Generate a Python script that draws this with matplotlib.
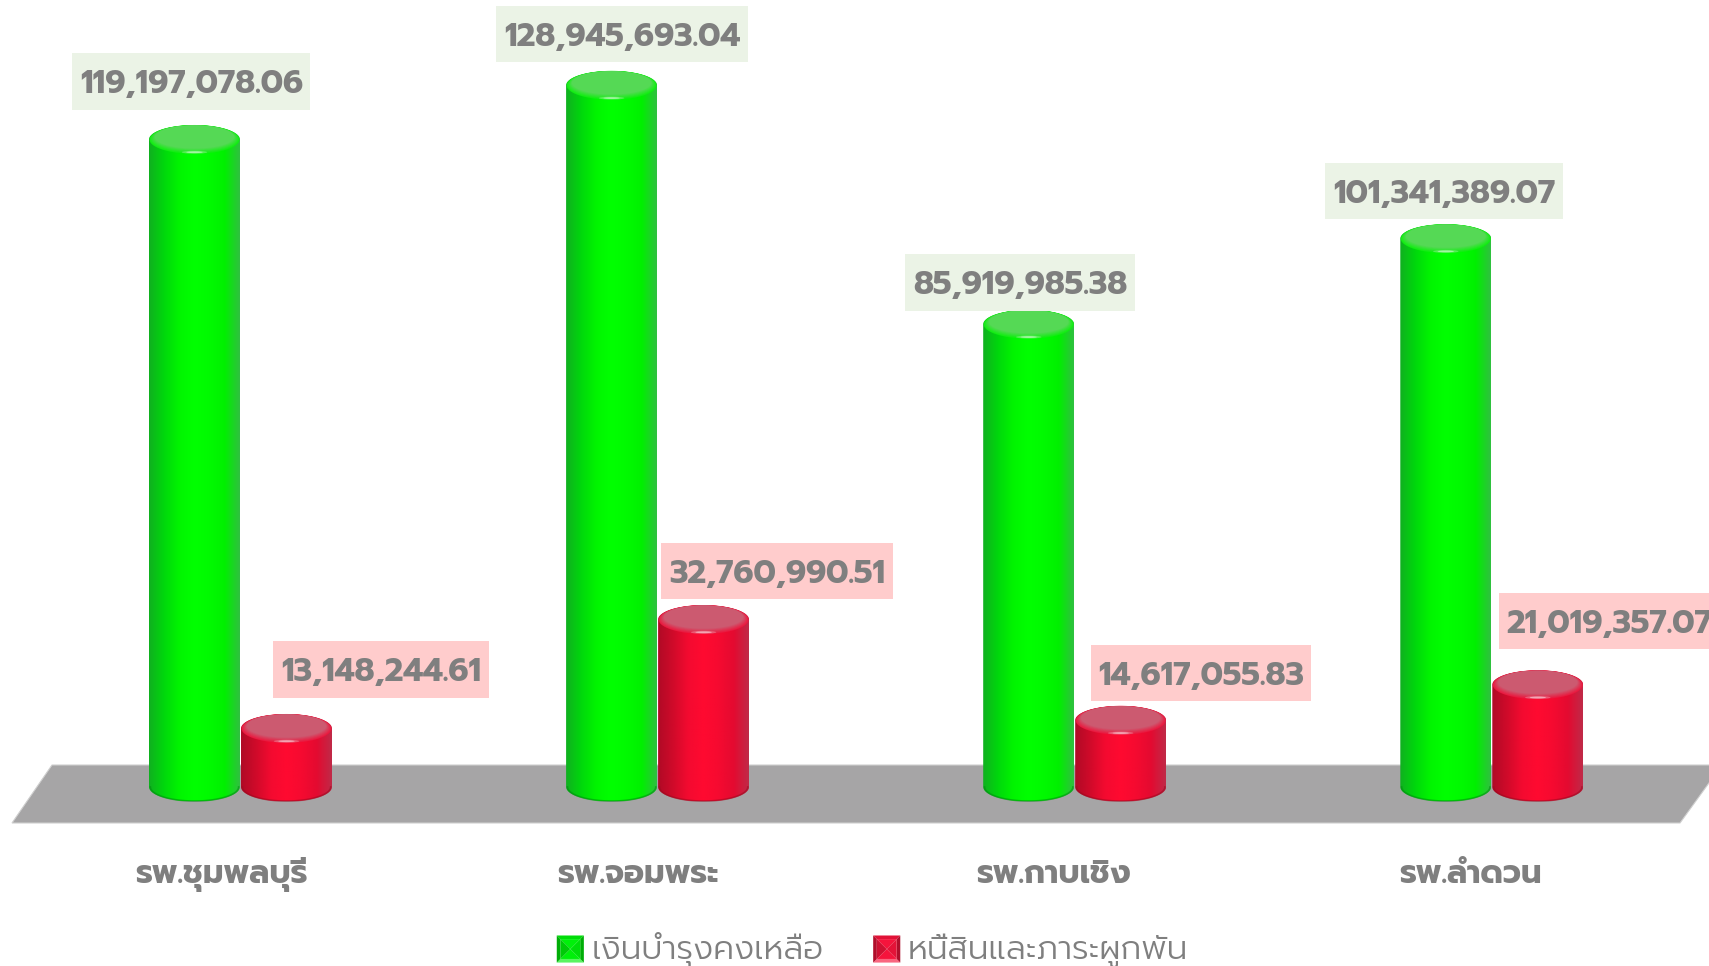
import numpy as np
import matplotlib
matplotlib.use('Agg')
import matplotlib.pyplot as plt
from matplotlib.legend_handler import HandlerBase
from matplotlib.patches import Patch, PathPatch, Polygon
from matplotlib.path import Path
from matplotlib.colors import LinearSegmentedColormap, to_rgb

hospitals = ['รพ.ชุมพลบุรี', 'รพ.จอมพระ', 'รพ.กาบเชิง', 'รพ.ลำดวน']
series_names = ['เงินบำรุงคงเหลือ', 'หนี้สินและภาระผูกพัน']
money_left = [119197078.06, 128945693.04, 85919985.38, 101341389.07]
debts = [13148244.61, 32760990.51, 14617055.83, 21019357.07]

# label offsets from the bar top, in pixels (hand placed in the original)
green_dx = [-3.6, 9.9, -9.2, -2.3]
green_dy = [40, 33.6, 24, 29.6]
red_dx = [95, 73.9, 80.8, 71.7]
red_dy = [41, 31, 29.6, 46]

W, H = 1709, 966
PX_PER_UNIT = 5.554  # pixels per million
FLOOR_BOTTOM = 824
BASE_Y = 787
GROUP0 = 240.5
GROUP_STEP = 417.1
BAR_W = 91 / GROUP_STEP
RY = 14.5 / PX_PER_UNIT

plt.rcParams['font.family'] = ['Prompt', 'DejaVu Sans']

fig = plt.figure(figsize=(W / 100, H / 100), dpi=100)
ax = fig.add_axes([0, (H - FLOOR_BOTTOM) / H, 1, FLOOR_BOTTOM / H])
ax.set_xlim(-GROUP0 / GROUP_STEP, (W - GROUP0) / GROUP_STEP)
ax.set_ylim((BASE_Y - FLOOR_BOTTOM) / PX_PER_UNIT, BASE_Y / PX_PER_UNIT)
for s in ax.spines.values():
    s.set_visible(False)
ax.set_yticks([])

xpos = np.arange(len(hospitals))
ax.set_xticks(xpos * 0.998 - 0.046)
ax.set_xticklabels(hospitals, fontsize=23.2, fontweight='bold', color='#7f7f7f')
plt.setp(ax.get_xticklabels(), va='baseline')
ax.tick_params(axis='x', length=0, pad=42.5)

# floor
x_px = lambda p: (p - GROUP0) / GROUP_STEP
y_px = lambda p: (BASE_Y - p) / PX_PER_UNIT
ax.add_patch(Polygon([(x_px(12), y_px(823)), (x_px(52), y_px(765)), (x_px(1722), y_px(765)),
                      (x_px(1680), y_px(823))], fc='#a6a5a6', ec='#cfcfcf', lw=0.8, zorder=1))


def label_box(x0, y0, w, h, mut):
    # box round the text, the text layout sits a bit high so more room on top
    px = 7.5
    top, bottom = 16, 9.4
    return Path([(x0 - px, y0 - bottom), (x0 + w + px, y0 - bottom), (x0 + w + px, y0 + h + top),
                 (x0 - px, y0 + h + top), (x0 - px, y0 - bottom)], closed=True)


def mix(a, b, t):
    return tuple((1 - t) * np.array(to_rgb(a)) + t * np.array(to_rgb(b)))


def cylinder(x0, v, colors, face, rim, edge):
    x1 = x0 + BAR_W
    xc = (x0 + x1) / 2
    rx = BAR_W / 2
    t = np.linspace(0, np.pi, 60)
    # outline: top arc then bottom arc
    top = np.column_stack([xc + rx * np.cos(t), v - RY + RY * np.sin(t)])
    bot = np.column_stack([xc - rx * np.cos(t), 0 - RY * np.sin(t)])
    pts = np.vstack([top, bot, top[:1]])
    body = PathPatch(Path(pts), fc='none', ec='none')
    ax.add_patch(body)
    cmap = LinearSegmentedColormap.from_list('c', colors)
    im = ax.imshow(np.linspace(0, 1, 256)[None, :], extent=(x0, x1, -RY, v), cmap=cmap,
                   aspect='auto', zorder=3, interpolation='bilinear')
    im.set_clip_path(body)
    # soft top face, layered ellipses from rim colour to face colour
    t2 = np.linspace(0, 2 * np.pi, 80)
    n = 14
    for k in range(n):
        f = k / (n - 1)
        sx = 0.99 - 0.25 * f
        sy = 0.99 - 0.42 * f
        shift = 0.36 * RY * f
        ax.fill(xc + rx * sx * np.cos(t2), v - RY + shift + RY * sy * np.sin(t2),
                color=mix(rim, face, min(f * 2.2, 1)), zorder=4, lw=0)
    # small soft highlight on the front rim
    t3 = np.linspace(0, 2 * np.pi, 40)
    for a, b, al in [(0.28, 0.10, 0.25), (0.18, 0.06, 0.45)]:
        ax.fill(xc + rx * a * np.cos(t3), v - 2 * RY + 0.12 * RY + RY * b * np.sin(t3),
                color='white', alpha=al, zorder=5, lw=0)
    # darker line along the bottom
    ax.plot(xc - rx * 0.97 * np.cos(t), -RY * 0.97 * np.sin(t), color=edge, alpha=0.55, lw=1.2, zorder=5)


GREEN = ['#10b020', '#00d80c', '#00f500', '#00ff00', '#00fa00', '#00f000', '#30c040']
RED = ['#b00a26', '#d00a2a', '#f40a30', '#ff0a30', '#f60a30', '#e40a30', '#c02a48']

for i in range(len(hospitals)):
    v = money_left[i] / 1e6
    cylinder(i - BAR_W - 0.5 / GROUP_STEP, v, GREEN, '#55d955', '#12ee12', '#008a10')
    ax.text(i - BAR_W / 2 + green_dx[i] / GROUP_STEP, v + green_dy[i] / PX_PER_UNIT,
            f'{money_left[i]:,.2f}', ha='center', va='center', fontsize=23.2, fontweight='bold',
            color='#7f7f7f', zorder=6, clip_on=False,
            bbox=dict(boxstyle=label_box, fc='#ebf3e6', ec='none'))
    d = debts[i] / 1e6
    cylinder(i + 0.5 / GROUP_STEP, d, RED, '#cc5a70', '#ea1a40', '#9a0a20')
    ax.text(i + BAR_W / 2 + red_dx[i] / GROUP_STEP, d + red_dy[i] / PX_PER_UNIT,
            f'{debts[i]:,.2f}', ha='center', va='center', fontsize=23.2, fontweight='bold',
            color='#7f7f7f', zorder=6, clip_on=False,
            bbox=dict(boxstyle=label_box, fc='#ffcccc', ec='none'))
ax.set_xlim(-GROUP0 / GROUP_STEP, (W - GROUP0) / GROUP_STEP)
ax.set_ylim((BASE_Y - FLOOR_BOTTOM) / PX_PER_UNIT, BASE_Y / PX_PER_UNIT)


class BevelSquare(HandlerBase):
    def create_artists(self, legend, orig, x0, y0, width, height, fontsize, trans):
        c = np.array(orig.get_facecolor()[:3])
        s = 19.5
        x0 = x0 + (width - s) / 2
        y0 = y0 + (height - s) / 2 - 6.3
        l, b, r, t = x0, y0, x0 + s, y0 + s
        bev = 2.6
        il, ib, ir, it = l + bev, b + bev, r - bev, t - bev
        mx, my = (l + r) / 2, (b + t) / 2
        dark = c * 0.72
        light = c * 0.65 + 0.35
        arts = [
            Polygon([(l, b), (r, b), (ir, ib), (il, ib)], fc=light, ec='none', transform=trans),
            Polygon([(l, t), (r, t), (ir, it), (il, it)], fc=c * 0.92, ec='none', transform=trans),
            Polygon([(l, b), (l, t), (il, it), (il, ib)], fc=dark, ec='none', transform=trans),
            Polygon([(r, b), (r, t), (ir, it), (ir, ib)], fc=dark, ec='none', transform=trans),
            Polygon([(il, ib), (ir, ib), (mx, my)], fc=c, ec='none', transform=trans),
            Polygon([(il, it), (ir, it), (mx, my)], fc=c, ec='none', transform=trans),
            Polygon([(il, ib), (il, it), (mx, my)], fc=c * 0.84, ec='none', transform=trans),
            Polygon([(ir, ib), (ir, it), (mx, my)], fc=c * 0.93, ec='none', transform=trans),
        ]
        return arts


handles = [Patch(fc='#00f00a'), Patch(fc='#f5143c')]
fig.legend(handles, series_names, loc='lower center', bbox_to_anchor=(0.5105, -0.0016), ncol=2, frameon=False,
           prop={'size': 23.8, 'weight': 300}, labelcolor='#7f7f7f',
           handler_map={Patch: BevelSquare()}, handlelength=0.82, handleheight=1.0,
           handletextpad=0.23, columnspacing=1.5, borderpad=0, borderaxespad=0)

fig.savefig('out.png', dpi=100)
